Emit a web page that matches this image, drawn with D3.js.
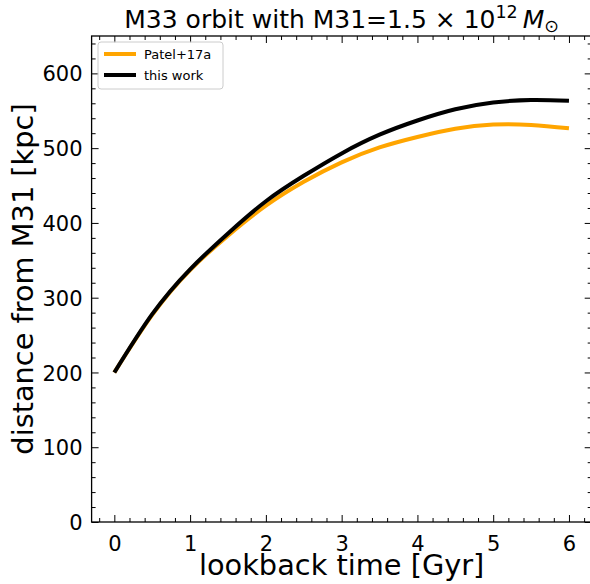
<!DOCTYPE html>
<html>
<head>
<meta charset="utf-8">
<script src="https://cdn.jsdelivr.net/npm/d3@7"></script>
<style>
  body { margin: 0; background: #fff; }
  svg { font-family: "DejaVu Sans", sans-serif; }
</style>
</head>
<body>
<div id="chart"></div>
<script>
// lookback time [Gyr] and distance from M31 [kpc]
const times = [0, 0.5, 1, 1.5, 2, 2.5, 3, 3.5, 4, 4.5, 5, 5.5, 6];
const patel17a = [200, 277, 337, 383, 423, 455, 481, 501, 515, 526, 531.5, 531, 526.5];
const thisWork = [200, 278, 338, 386, 429, 463, 493, 518, 537, 552, 561, 564.5, 563.5];
const xTicks = [0, 1, 2, 3, 4, 5, 6];
const yTicks = [0, 100, 200, 300, 400, 500, 600];

const W = 590, H = 584;
const mL = 91.6, mR = 591.7, mT = 36, mB = 522;

const svg = d3.select('#chart').append('svg')
    .attr('width', W).attr('height', H);

const x = d3.scaleLinear().domain([-0.3, 6.3]).range([mL, mR]);
const y = d3.scaleLinear().domain([0, 650]).range([mB, mT]);

const xMinor = d3.range(-0.2, 6.3, 0.2).filter(v => Math.abs(v - Math.round(v)) > 1e-6);
const yMinor = d3.range(20, 650, 20).filter(v => v % 100 !== 0);

// ticks on all four sides, pointing in
function tickAxis(axisFn, scale, vals, len, transform, labels) {
    const g = svg.append('g').attr('transform', transform)
        .call(axisFn(scale).tickValues(vals).tickSizeInner(-len).tickSizeOuter(0)
            .tickPadding(labels ? 14 : 0)
            .tickFormat(labels ? d3.format('d') : ''));
    g.select('.domain').remove();
    g.attr('font-size', 21).attr('font-family', '"DejaVu Sans", sans-serif');
    g.selectAll('.tick line').attr('stroke', '#000').attr('stroke-width', 1);
    g.selectAll('.tick text').style('font-size', '21px').attr('fill', '#000');
    return g;
}
tickAxis(d3.axisBottom, x, xTicks, 7, `translate(0,${mB})`, true);
tickAxis(d3.axisBottom, x, xMinor, 4, `translate(0,${mB})`, false);
tickAxis(d3.axisTop, x, xTicks, 7, `translate(0,${mT})`, false);
tickAxis(d3.axisTop, x, xMinor, 4, `translate(0,${mT})`, false);
const yl = tickAxis(d3.axisLeft, y, yTicks, 7, `translate(${mL},0)`, true);
yl.selectAll('.tick text').attr('dy', '0.36em').attr('x', -9);
tickAxis(d3.axisLeft, y, yMinor, 4, `translate(${mL},0)`, false);
tickAxis(d3.axisRight, y, yTicks, 7, `translate(${mR},0)`, false);
tickAxis(d3.axisRight, y, yMinor, 4, `translate(${mR},0)`, false);

// lines
const line = d3.line()
    .x(d => x(d[0]))
    .y(d => y(d[1]))
    .curve(d3.curveNatural);

svg.append('path')
    .datum(times.map((t, i) => [t, patel17a[i]]))
    .attr('d', line).attr('fill', 'none')
    .attr('stroke', '#FFA500').attr('stroke-width', 4);

svg.append('path')
    .datum(times.map((t, i) => [t, thisWork[i]]))
    .attr('d', line).attr('fill', 'none')
    .attr('stroke', '#000').attr('stroke-width', 4);

// frame
svg.append('rect')
    .attr('x', mL).attr('y', mT)
    .attr('width', mR - mL).attr('height', mB - mT)
    .attr('fill', 'none').attr('stroke', '#000').attr('stroke-width', 1.3);

// legend
const lg = svg.append('g').attr('transform', 'translate(98,42)');
lg.append('rect')
    .attr('width', 125).attr('height', 47).attr('rx', 3)
    .attr('fill', '#fff').attr('fill-opacity', 0.8)
    .attr('stroke', '#ccc').attr('stroke-width', 1);
const entries = [['Patel+17a', '#FFA500'], ['this work', '#000']];
entries.forEach(([name, col], i) => {
    const yy = 12 + i * 21;
    lg.append('line').attr('x1', 6).attr('x2', 38).attr('y1', yy).attr('y2', yy)
        .attr('stroke', col).attr('stroke-width', 4);
    lg.append('text').attr('x', 46).attr('y', yy).attr('dy', '0.35em')
        .attr('font-size', 13).text(name);
});

// title
const title = svg.append('text')
    .attr('x', (mL + mR) / 2).attr('y', 28)
    .attr('text-anchor', 'middle').attr('font-size', 25);
title.append('tspan').text('M33 orbit with M31=1.5 \u00d7 10');
title.append('tspan').attr('font-size', 17.5).attr('dy', -10).text('12');
title.append('tspan').attr('dy', 10).text('\u2009');
title.append('tspan').attr('font-style', 'italic').text('M');
title.append('tspan').attr('font-size', 17.5).attr('dy', 4).text('\u2299');

// axis labels
svg.append('text')
    .attr('x', (mL + mR) / 2).attr('y', 575)
    .attr('text-anchor', 'middle').attr('font-size', 28.8)
    .text('lookback time [Gyr]');

svg.append('text')
    .attr('transform', `translate(33,${(mT + mB) / 2}) rotate(-90)`)
    .attr('text-anchor', 'middle').attr('font-size', 28.8)
    .text('distance from M31 [kpc]');
</script>
</body>
</html>
